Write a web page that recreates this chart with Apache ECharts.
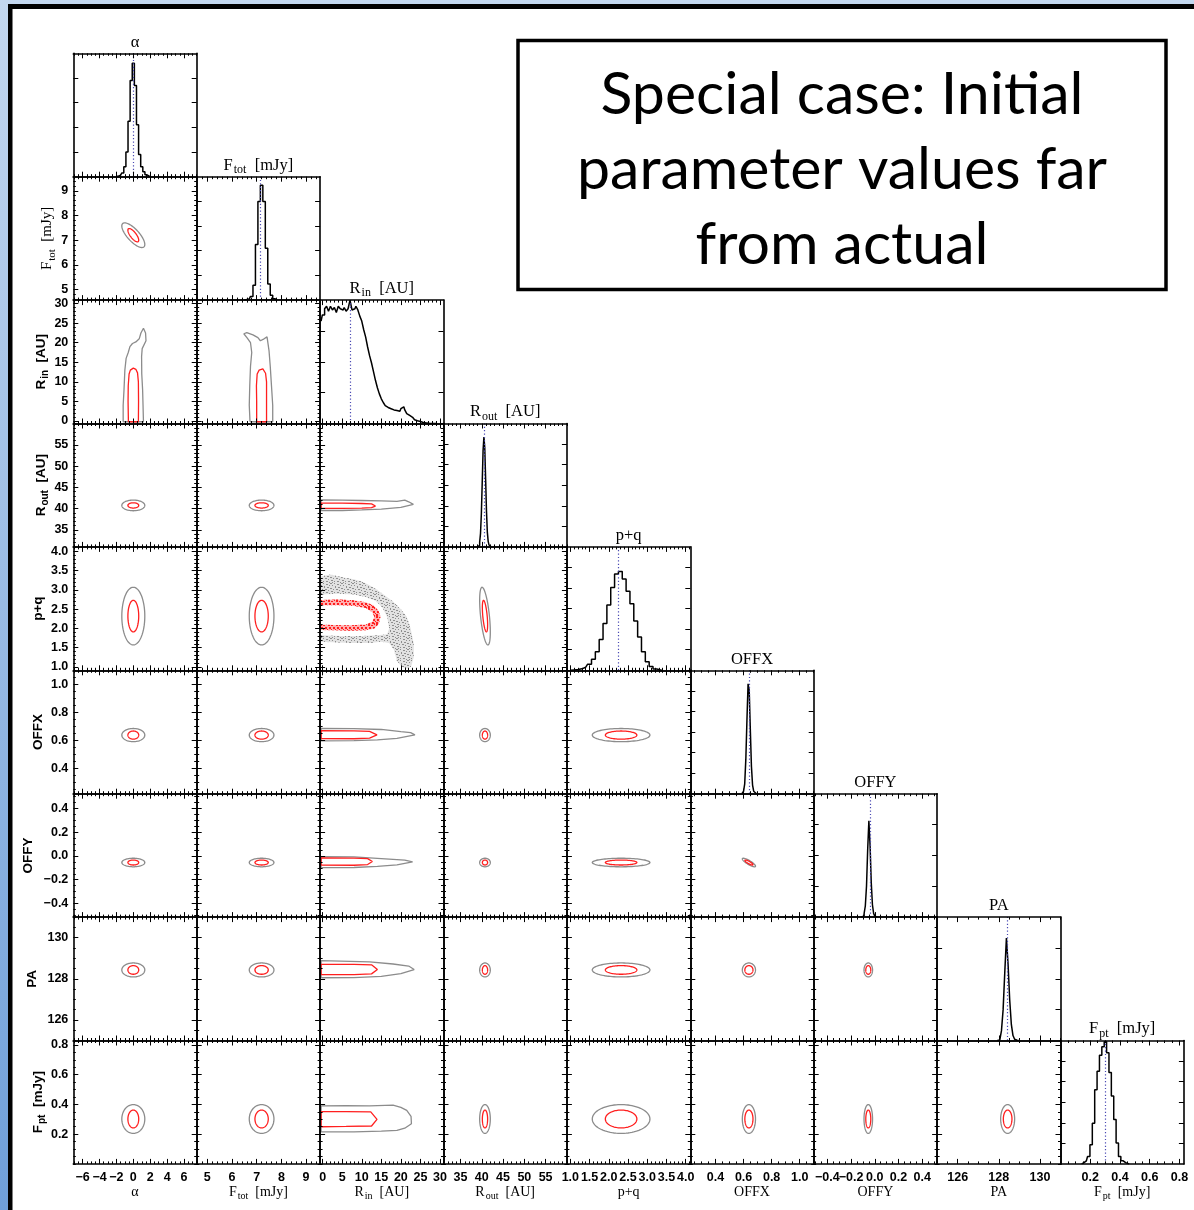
<!DOCTYPE html>
<html><head><meta charset="utf-8">
<script src="https://cdn.jsdelivr.net/npm/echarts@6/dist/echarts.min.js"></script>
<style>html,body{margin:0;padding:0;background:#fff}#c{width:1194px;height:1210px}</style>
</head><body><div id="c"></div><script>
// ---------------- DATA ----------------
const varNames = ['{m|α}', '{m|F}{s|tot}{m|  [mJy]}', '{m|R}{s|in}{m|  [AU]}', '{m|R}{s|out}{m|  [AU]}', '{m|p+q}', '{m|OFFX}', '{m|OFFY}', '{m|PA}', '{m|F}{s|pt}{m|  [mJy]}'];
const varMin = [-7.1, 4.57, -0.65, 31.0, 0.91, 0.22, -0.515, 125.0, 0.0];
const varMax = [7.5, 9.57, 30.9, 60.0, 4.12, 1.10, 0.525, 131.0, 0.83];
const majorTicks = [[-6,-4,-2,0,2,4,6],[5,6,7,8,9],[0,5,10,15,20,25,30],[35,40,45,50,55],[1.0,1.5,2.0,2.5,3.0,3.5,4.0],[0.4,0.6,0.8,1.0],[-0.4,-0.2,0.0,0.2,0.4],[126,128,130],[0.2,0.4,0.6,0.8]];
const tickLabels = [['−6','−4','−2','0','2','4','6'],['5','6','7','8','9'],['0','5','10','15','20','25','30'],['35','40','45','50','55'],['1.0','1.5','2.0','2.5','3.0','3.5','4.0'],['0.4','0.6','0.8','1.0'],['−0.4','−0.2','0.0','0.2','0.4'],['126','128','130'],['0.2','0.4','0.6','0.8']];
const minorStep = [0.5, 0.2, 1, 1, 0.1, 0.05, 0.05, 0.5, 0.05];
const histDivisions = [5, 5, 4, 6, 6, 6, 4, 4, 6];
const markerValues = [0.0, 7.14, 7.0, 40.65, 2.25, 0.643, -0.045, 128.41, 0.303];

// histograms (bin centre, height as fraction of panel)
const alphaHistX = [-2.0,-1.75,-1.5,-1.25,-1.0,-0.75,-0.5,-0.25,0.0,0.25,0.5,0.75,1.0,1.25,1.5,1.75,2.0];
const alphaHistY = [0,0.005,0.012,0.03,0.08,0.2,0.45,0.78,0.92,0.74,0.42,0.18,0.08,0.04,0.015,0.005,0];
const ftotHistX = [6.5,6.6,6.7,6.8,6.9,7.0,7.1,7.2,7.3,7.4,7.5,7.6,7.7,7.8];
const ftotHistY = [0,0.004,0.01,0.03,0.12,0.45,0.80,0.93,0.80,0.42,0.13,0.04,0.01,0];
const rinHistX = [-0.4,0.25,0.75,1.25,1.75,2.25,2.75,3.25,3.75,4.25,4.75,5.25,5.75,6.25,6.75,7.25,7.75,8.25,8.75,9.25,9.75,10.25,10.75,11.25,11.75,12.25,12.75,13.25,13.75,14.25,14.75,15.25,15.75,16.25,16.75,17.25,17.75,18.25,18.75,19.25,19.75,20.25,20.75,21.25,21.75,22.25,22.75,23.25,23.75,24.25,24.75,25.25,25.75,26.25,26.75,27.25,27.75,28.25,28.75,29.25];
const rinHistY = [0.83,0.88,0.93,0.95,0.91,0.95,0.92,0.94,0.90,0.95,0.93,0.92,0.94,0.91,0.93,1.00,0.92,0.93,0.95,0.92,0.87,0.83,0.76,0.70,0.62,0.55,0.49,0.42,0.35,0.29,0.24,0.20,0.17,0.145,0.13,0.12,0.115,0.11,0.105,0.10,0.10,0.12,0.135,0.11,0.08,0.065,0.05,0.04,0.03,0.022,0.016,0.011,0.008,0.005,0.003,0.002,0.001,0.001,0,0];
const routHistX = [39.0,39.2,39.4,39.6,39.8,40.0,40.2,40.4,40.6,40.8,41.0,41.2,41.4,41.6,41.8,42.0,42.2];
const routHistY = [0,0.003,0.012,0.04,0.11,0.27,0.52,0.78,0.89,0.80,0.55,0.29,0.12,0.045,0.015,0.005,0];
const pqHistX = [1.0,1.1,1.2,1.3,1.4,1.5,1.6,1.7,1.8,1.9,2.0,2.1,2.2,2.3,2.4,2.5,2.6,2.7,2.8,2.9,3.0,3.1,3.2,3.3,3.4];
const pqHistY = [0,0.003,0.006,0.012,0.025,0.05,0.09,0.15,0.25,0.38,0.53,0.67,0.78,0.80,0.74,0.64,0.54,0.40,0.27,0.15,0.07,0.03,0.01,0.003,0];
const offxHistX = [0.588,0.596,0.604,0.612,0.620,0.628,0.636,0.644,0.652,0.660,0.668,0.676,0.684,0.692];
const offxHistY = [0,0.004,0.02,0.08,0.28,0.60,0.89,0.84,0.52,0.22,0.07,0.02,0.004,0];
const offyHistX = [-0.115,-0.105,-0.095,-0.085,-0.075,-0.065,-0.055,-0.045,-0.035,-0.025,-0.015,-0.005,0.005,0.015,0.025];
const offyHistY = [0,0.003,0.01,0.03,0.09,0.25,0.55,0.78,0.58,0.28,0.10,0.03,0.008,0.002,0];
const paHistX = [127.93,128.01,128.09,128.17,128.25,128.33,128.41,128.49,128.57,128.65,128.73,128.81,128.89,128.97];
const paHistY = [0,0.005,0.02,0.08,0.25,0.55,0.83,0.62,0.33,0.13,0.04,0.01,0.002,0];
const fptHistX = [0.142,0.158,0.174,0.190,0.206,0.222,0.238,0.254,0.270,0.286,0.302,0.318,0.334,0.350,0.366,0.382,0.398,0.414,0.430,0.446,0.462];
const fptHistY = [0,0.01,0.025,0.06,0.155,0.33,0.60,0.75,0.88,0.95,0.99,0.90,0.74,0.55,0.36,0.17,0.06,0.025,0.01,0.003,0];
const histX = [alphaHistX, ftotHistX, rinHistX, routHistX, pqHistX, offxHistX, offyHistX, paHistX, fptHistX];
const histY = [alphaHistY, ftotHistY, rinHistY, routHistY, pqHistY, offxHistY, offyHistY, paHistY, fptHistY];

// elliptical contours: centre, half-extent of 68% (red) and 95% (grey) regions
const contourCenter = [0.0, 7.2, null, 40.75, 2.32, 0.638, -0.055, 128.43, 0.302];
const redHalf = [0.64, 0.27, null, 0.62, 0.41, 0.029, 0.021, 0.21, 0.060];
const grayHalf = [1.36, 0.50, null, 1.25, 0.75, 0.047, 0.036, 0.34, 0.097];
const panelCorr = {'1,0': -0.75, '4,3': -0.55, '6,5': -0.85};

// irregular contours (x value, y value), keyed by "row,col"
const rinAlphaRed = [[-0.58,-0.2],[0.6,-0.2],[0.62,5],[0.6,10],[0.5,12.3],[0.3,13.2],[0.0,13.5],[-0.35,13.0],[-0.5,12],[-0.6,9],[-0.62,5],[-0.58,-0.2]];
const rinAlphaGray = [[-1.2,-0.2],[1.2,-0.2],[1.15,4],[1.1,8],[1.0,12],[0.98,16.5],[1.05,18.5],[1.5,20.5],[1.45,22.5],[1.2,23.7],[0.9,22.5],[0.7,21],[0.3,20.2],[-0.1,19.8],[-0.4,19],[-0.6,17.5],[-0.85,16],[-1.0,13],[-1.1,8],[-1.2,4],[-1.2,-0.2]];
const rinFtotRed = [[7.0,-0.2],[7.4,-0.2],[7.4,5],[7.4,10],[7.36,12.2],[7.25,13.3],[7.1,13.0],[7.02,12],[6.99,9],[7.0,5],[7.0,-0.2]];
const rinFtotGray = [[6.73,-0.2],[7.65,-0.2],[7.65,4],[7.6,9],[7.55,14],[7.5,18],[7.42,21.5],[7.3,21],[7.15,20.5],[7.05,21.3],[6.85,22.0],[6.6,22.6],[6.48,22.3],[6.62,21.2],[6.75,20],[6.8,17.5],[6.75,14],[6.72,9],[6.7,4],[6.73,-0.2]];
const routRinRed = [[-0.4,40.05],[5,40.05],[10,40.1],[12.5,40.25],[13.5,40.6],[12.5,41.1],[10,41.2],[5,41.3],[-0.4,41.3],[-0.4,40.05]];
const routRinGray = [[-0.4,39.55],[5,39.55],[10,39.7],[15,39.9],[20,40.3],[23.2,41.0],[22,41.6],[21,42.0],[19,41.7],[15,41.8],[10,41.9],[5,42.0],[-0.4,42.05],[-0.4,39.55]];
const offxRinRed = [[-0.4,0.613],[8,0.612],[12,0.617],[13.9,0.64],[12,0.664],[8,0.668],[-0.4,0.669],[-0.4,0.613]];
const offxRinGray = [[-0.4,0.596],[8,0.598],[14,0.604],[19,0.615],[23.6,0.64],[22.5,0.655],[20,0.662],[15,0.678],[8,0.684],[-0.4,0.686],[-0.4,0.596]];
const offyRinRed = [[-0.4,-0.077],[8,-0.078],[11.5,-0.072],[12.7,-0.047],[11.5,-0.022],[8,-0.018],[-0.4,-0.017],[-0.4,-0.077]];
const offyRinGray = [[-0.4,-0.098],[8,-0.097],[14,-0.088],[19,-0.075],[23,-0.05],[21,-0.035],[15,-0.022],[8,-0.008],[-0.4,-0.006],[-0.4,-0.098]];
const paRinRed = [[-0.4,128.2],[8,128.2],[12.5,128.24],[14,128.45],[12.5,128.68],[8,128.7],[-0.4,128.7],[-0.4,128.2]];
const paRinGray = [[-0.4,128.05],[8,128.06],[15,128.12],[20,128.25],[23.4,128.45],[22,128.62],[18,128.72],[12,128.82],[-0.4,128.88],[-0.4,128.05]];
const fptRinRed = [[-0.4,0.25],[6,0.252],[12.5,0.255],[13.9,0.30],[12.3,0.35],[6,0.352],[-0.4,0.352],[-0.4,0.25]];
const fptRinGray = [[-0.4,0.215],[8,0.215],[15,0.22],[19,0.225],[21,0.24],[22.7,0.27],[22.6,0.32],[21.5,0.36],[20,0.38],[18,0.395],[12,0.39],[6,0.392],[-0.4,0.39],[-0.4,0.215]];
const irregular = {
  '2,0': [rinAlphaGray, rinAlphaRed], '2,1': [rinFtotGray, rinFtotRed],
  '3,2': [routRinGray, routRinRed], '5,2': [offxRinGray, offxRinRed],
  '6,2': [offyRinGray, offyRinRed], '7,2': [paRinGray, paRinRed], '8,2': [fptRinGray, fptRinRed]
};
// p+q versus R_in: noisy bands (outer and inner edges of the grey and red bands)
const pqRinGrayOuter = [[-0.6,3.35],[2,3.4],[5,3.33],[8,3.28],[10,3.22],[12,3.12],[14,3.0],[16,2.85],[18,2.7],[20,2.5],[21.5,2.3],[22.5,2.0],[23.3,1.6],[23.3,1.25],[22.6,1.0],[21.5,0.95],[20.2,1.0],[19,1.15],[18.2,1.45],[17,1.62],[15,1.65],[12,1.62],[8,1.62],[4,1.63],[-0.6,1.65]];
const pqRinGrayInner = [[-0.6,2.88],[4,2.9],[8,2.88],[11,2.82],[13.5,2.72],[15.2,2.55],[16.5,2.3],[17,2.0],[16.5,1.85],[14,1.82],[10,1.8],[5,1.8],[-0.6,1.82]];
const pqRinRedOuter = [[-0.6,2.74],[4,2.75],[8,2.73],[11,2.68],[13,2.6],[14.3,2.45],[14.8,2.3],[14.4,2.12],[13.2,2.0],[11,1.95],[7,1.94],[3,1.95],[-0.6,1.96]];
const pqRinRedInner = [[-0.6,2.6],[4,2.6],[8,2.58],[11,2.53],[12.7,2.42],[13.2,2.3],[12.7,2.17],[11,2.1],[7,2.08],[3,2.09],[-0.6,2.1]];

// ---------------- LAYOUT / STYLE ----------------
const N = 9, X0 = 73.3, Y0 = 53.3, CELL = 123.4;
const SANS = 'Liberation Sans', SERIF = 'Liberation Serif';
const RED = '#ff1f1f', GREY = '#8c8c8c';
function rich(size, family, weight) {
  return {
    m: {fontSize: size, fontFamily: family, fontWeight: weight, color: '#000', verticalAlign: 'top', lineHeight: size + 2},
    s: {fontSize: Math.round(size * 0.72), fontFamily: family, fontWeight: weight, color: '#000', verticalAlign: 'top', padding: [Math.round(size * 0.45), 0, 0, 1]}
  };
}
function makePattern(color, size, dots) {
  const cv = document.createElement('canvas'); cv.width = size; cv.height = size;
  const ctx = cv.getContext('2d'); ctx.fillStyle = color;
  dots.forEach(d => ctx.fillRect(d[0], d[1], d[2] || 1, d[3] || 1));
  return {image: cv, repeat: 'repeat'};
}
const greyDots = makePattern('#8f8f8f', 11, [[0,0,2,1],[4,0],[7,1,2,1],[10,2],[2,2],[5,3,1,2],[8,4,2,1],[0,5,2,1],[3,6],[6,6,2,1],[9,7],[1,8,2,1],[4,9],[7,9,2,1],[10,10],[2,10]]);
const redDots = makePattern(RED, 8, [[0,0,2,2],[3,1,2,1],[6,0],[5,3,2,2],[1,3,2,2],[3,5],[7,5],[0,6,2,2],[4,6,2,2],[6,7]]);

function minorValues(k) {
  const st = minorStep[k], out = [];
  const a = Math.ceil(varMin[k] / st - 1e-9), b = Math.floor(varMax[k] / st + 1e-9);
  for (let n = a; n <= b; n++) {
    const v = +(n * st).toFixed(6);
    if (!majorTicks[k].some(m => Math.abs(m - v) < st * 1e-3)) out.push(v);
  }
  return out;
}
function labelOf(k, v) {
  const idx = majorTicks[k].findIndex(m => Math.abs(m - v) < 1e-6);
  return idx >= 0 ? tickLabels[k][idx] : '';
}
const leftNameGap = [0, 15, 22, 22, 27, 27, 37, 33, 25];
const leftNameFont = [SANS, SERIF, SANS, SANS, SANS, SANS, SANS, SANS, SANS];
const leftNameSize = [13, 15, 13.5, 13.5, 13.5, 13.5, 13.5, 13.5, 13.5];
const tickFont = {fontFamily: SANS, fontWeight: 'bold', fontSize: 12.5, color: '#000'};

// x axes: major axis carries even-index labels, minor axis carries odd-index labels (avoids auto-hiding)
function mkX(g, k, pos, major, showLabel, name) {
  const tickVals = major ? majorTicks[k] : minorValues(k);
  const labVals = majorTicks[k].filter((_, q) => (q % 2 === 0) === major);
  const ax = {
    gridIndex: g, type: 'value', position: pos, min: varMin[k], max: varMax[k], z: 6,
    splitLine: {show: false},
    axisLine: {show: major, onZero: false, lineStyle: {color: '#000', width: 1.6}},
    axisTick: {show: true, inside: true, length: major ? 5 : 2.5, customValues: tickVals, lineStyle: {color: '#000', width: 1}},
    axisLabel: Object.assign({show: !!showLabel, customValues: labVals, margin: 7, hideOverlap: false,
      showMinLabel: true, showMaxLabel: true, formatter: v => labelOf(k, v)}, tickFont)
  };
  if (name) {
    ax.name = name; ax.nameLocation = 'middle';
    if (pos === 'bottom') { ax.nameGap = 21; ax.nameTextStyle = {rich: rich(14, SERIF, 'normal')}; }
    else { ax.nameGap = 1; ax.nameTextStyle = {rich: rich(16.5, SERIF, 'normal')}; }
  }
  return ax;
}
function mkY(g, k, pos, major, showLabel, name) {
  const vals = major ? majorTicks[k] : minorValues(k);
  const ax = {
    gridIndex: g, type: 'value', position: pos, min: varMin[k], max: varMax[k], z: 6,
    splitLine: {show: false},
    axisLine: {show: major, onZero: false, lineStyle: {color: '#000', width: 1.6}},
    axisTick: {show: true, inside: true, length: major ? 5 : 2.5, customValues: vals, lineStyle: {color: '#000', width: 1}},
    axisLabel: Object.assign({show: !!showLabel, customValues: vals, margin: 5, hideOverlap: false,
      showMinLabel: true, showMaxLabel: true, formatter: v => labelOf(k, v)}, tickFont)
  };
  if (name) {
    ax.name = name; ax.nameLocation = 'middle'; ax.nameRotate = 90; ax.nameGap = leftNameGap[k];
    ax.nameTextStyle = {rich: rich(leftNameSize[k], leftNameFont[k], leftNameFont[k] === SANS ? 'bold' : 'normal')};
  }
  return ax;
}
function mkYDiag(g, n, pos) {
  const vals = [];
  for (let q = 1; q < n; q++) vals.push(q / n);
  return {
    gridIndex: g, type: 'value', position: pos, min: 0, max: 1, splitLine: {show: false}, z: 6,
    axisLine: {show: true, onZero: false, lineStyle: {color: '#000', width: 1.6}},
    axisTick: {show: true, inside: true, length: 5, customValues: vals, lineStyle: {color: '#000', width: 1}},
    axisLabel: {show: false, customValues: vals}
  };
}
function renderEllipse(params, api) {
  const cx = api.value(0), cy = api.value(1), ex = api.value(2), ey = api.value(3), rho = api.value(4), lvl = api.value(5);
  const c = api.coord([cx, cy]);
  const c2 = api.coord([cx + ex, cy + ey]);
  const rx = Math.abs(c2[0] - c[0]), ry = Math.abs(c2[1] - c[1]);
  const s = Math.sqrt(1 - rho * rho);
  const pts = [];
  for (let q = 0; q < 90; q++) {
    const t = q / 90 * 2 * Math.PI;
    pts.push([c[0] + rx * Math.cos(t), c[1] - ry * (rho * Math.cos(t) + s * Math.sin(t))]);
  }
  return {type: 'polygon', shape: {points: pts}, style: {fill: 'none', stroke: lvl ? RED : GREY, lineWidth: 1.3}};
}
function renderNoisyBands(params, api) {
  const toPts = arr => arr.map(p => api.coord(p));
  return {type: 'group', children: [
    {type: 'polygon', shape: {points: toPts(pqRinGrayOuter)}, style: {fill: '#e2e2e2'}},
    {type: 'polygon', shape: {points: toPts(pqRinGrayOuter)}, style: {fill: greyDots}},
    {type: 'polygon', shape: {points: toPts(pqRinGrayInner)}, style: {fill: '#fff'}},
    {type: 'polygon', shape: {points: toPts(pqRinRedOuter)}, style: {fill: '#ffb0b0'}},
    {type: 'polygon', shape: {points: toPts(pqRinRedOuter)}, style: {fill: redDots}},
    {type: 'polygon', shape: {points: toPts(pqRinRedInner)}, style: {fill: '#fff'}}
  ]};
}

const grids = [], xAxes = [], yAxes = [], series = [];
let g = 0;
for (let i = 0; i < N; i++) {
  for (let j = 0; j <= i; j++) {
    const diag = i === j;
    const bottomRow = i === N - 1;
    grids.push({left: X0 + j * CELL, top: Y0 + i * CELL, width: CELL, height: CELL, containLabel: false, outerBoundsMode: 'none'});
    const xi = xAxes.length, yi = yAxes.length;
    xAxes.push(mkX(g, j, 'bottom', true, bottomRow, bottomRow ? varNames[j] : ''));
    xAxes.push(mkX(g, j, 'top', true, false, diag ? varNames[j] : ''));
    xAxes.push(mkX(g, j, 'bottom', false, bottomRow));
    xAxes.push(mkX(g, j, 'top', false, false));
    if (diag) {
      yAxes.push(mkYDiag(g, histDivisions[j], 'left'));
      yAxes.push(mkYDiag(g, histDivisions[j], 'right'));
      series.push({
        type: 'line', xAxisIndex: xi, yAxisIndex: yi, step: 'middle', symbol: 'none', silent: true, animation: false,
        data: histX[j].map((x, q) => [x, histY[j][q]]),
        lineStyle: {color: '#000', width: 1.5}, z: 3,
        markLine: {silent: true, symbol: ['none', 'none'], animation: false, label: {show: false},
          lineStyle: {color: '#4b4bb4', type: [1.2, 2.2], width: 1.2}, data: [{xAxis: markerValues[j]}]}
      });
    } else {
      yAxes.push(mkY(g, i, 'left', true, j === 0, j === 0 ? varNames[i] : ''));
      yAxes.push(mkY(g, i, 'right', true, false, ''));
      yAxes.push(mkY(g, i, 'left', false));
      yAxes.push(mkY(g, i, 'right', false));
      const key = i + ',' + j;
      if (key === '4,2') {
        series.push({type: 'custom', xAxisIndex: xi, yAxisIndex: yi, silent: true, animation: false, clip: true,
          renderItem: renderNoisyBands, data: [[0, 0]], z: 2});
      } else if (irregular[key]) {
        const [gp, rp] = irregular[key];
        series.push({type: 'line', xAxisIndex: xi, yAxisIndex: yi, symbol: 'none', silent: true, animation: false, clip: true,
          data: gp, lineStyle: {color: GREY, width: 1.3}, z: 2});
        series.push({type: 'line', xAxisIndex: xi, yAxisIndex: yi, symbol: 'none', silent: true, animation: false, clip: true,
          data: rp, lineStyle: {color: RED, width: 1.3}, z: 3});
      } else {
        const rho = panelCorr[key] || 0;
        series.push({type: 'custom', xAxisIndex: xi, yAxisIndex: yi, silent: true, animation: false, clip: true,
          renderItem: renderEllipse,
          data: [[contourCenter[j], contourCenter[i], grayHalf[j], grayHalf[i], rho, 0],
                 [contourCenter[j], contourCenter[i], redHalf[j], redHalf[i], rho, 1]], z: 3});
      }
    }
    g++;
  }
}

const graphic = [
  {type: 'rect', shape: {x: 0, y: 0, width: 1194, height: 4}, style: {fill: '#c3d7ef'}, z: 10},
  {type: 'rect', shape: {x: 0, y: 0, width: 8, height: 1210},
    style: {fill: new echarts.graphic.LinearGradient(0, 0, 0, 1, [{offset: 0, color: '#c3d7ef'}, {offset: 1, color: '#6f9fd9'}])}, z: 10},
  {type: 'rect', shape: {x: 8, y: 4, width: 1186, height: 5}, style: {fill: '#000'}, z: 11},
  {type: 'rect', shape: {x: 8, y: 4, width: 4.5, height: 1206}, style: {fill: '#000'}, z: 11},
  {type: 'rect', shape: {x: 518, y: 40.5, width: 648, height: 249}, style: {fill: '#fff', stroke: '#000', lineWidth: 3.5}, z: 10},
  {type: 'text', x: 842, y: 95, style: {text: 'Special case: Initial', fontFamily: 'Lato', fontSize: 59, fill: '#000', align: 'center', verticalAlign: 'middle'}, z: 11},
  {type: 'text', x: 842, y: 170, style: {text: 'parameter values far', fontFamily: 'Lato', fontSize: 59, fill: '#000', align: 'center', verticalAlign: 'middle'}, z: 11},
  {type: 'text', x: 842, y: 245, style: {text: 'from actual', fontFamily: 'Lato', fontSize: 59, fill: '#000', align: 'center', verticalAlign: 'middle'}, z: 11}
];

const chart = echarts.init(document.getElementById('c'), null, {renderer: 'canvas', width: 1194, height: 1210});
chart.setOption({animation: false, backgroundColor: '#fff', grid: grids, xAxis: xAxes, yAxis: yAxes, series: series, graphic: graphic});
</script></body></html>
